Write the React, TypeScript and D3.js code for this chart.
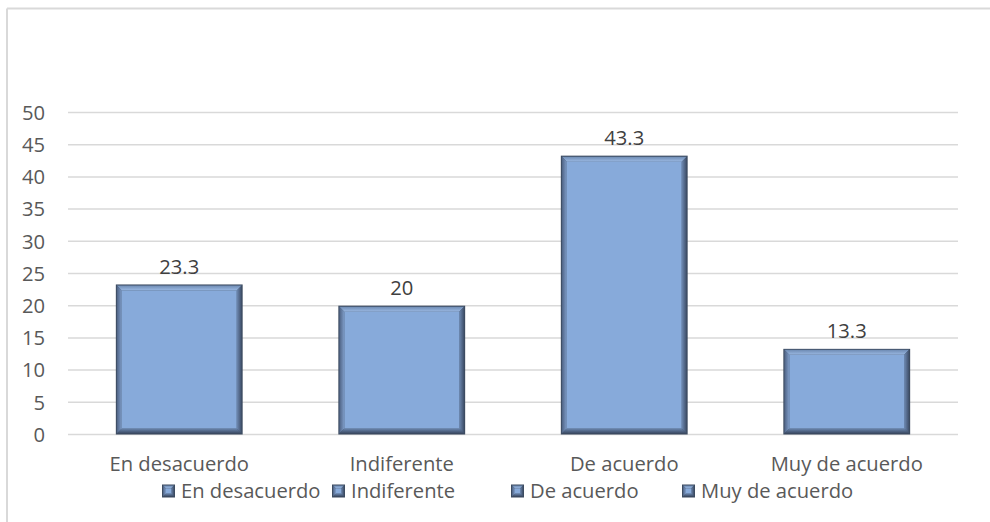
import React from "react";
import * as d3 from "d3";

const categories = ["En desacuerdo", "Indiferente", "De acuerdo", "Muy de acuerdo"];
const values = [23.3, 20, 43.3, 13.3];
const valueLabels = ["23.3", "20", "43.3", "13.3"];
const yTicks = [0, 5, 10, 15, 20, 25, 30, 35, 40, 45, 50];
const legendItems = ["En desacuerdo", "Indiferente", "De acuerdo", "Muy de acuerdo"];
const legendX = [162, 332, 511, 682];

const W = 990;
const H = 522;
const FONT = "'Open Sans', 'Noto Sans', sans-serif";
const TEXT = "#595959";
const FILL = "#87AADA";
const EDGE = "#3C4B60";
const FS = 20.2;

function BevelRect({ x, y, w, h, b }: { x: number; y: number; w: number; h: number; b: number }) {
  const x2 = x + w;
  const y2 = y + h;
  return (
    <g>
      <rect x={x} y={y} width={w} height={h} fill={EDGE} />
      <polygon points={`${x + 1},${y + 1} ${x2 - 1},${y + 1} ${x2 - 1 - b},${y + 1 + b} ${x + 1 + b},${y + 1 + b}`} fill="url(#bvTop)" />
      <polygon points={`${x + 1},${y + 1} ${x + 1 + b},${y + 1 + b} ${x + 1 + b},${y2 - 1 - b} ${x + 1},${y2 - 1}`} fill="url(#bvLeft)" />
      <polygon points={`${x2 - 1},${y + 1} ${x2 - 1},${y2 - 1} ${x2 - 1 - b},${y2 - 1 - b} ${x2 - 1 - b},${y + 1 + b}`} fill="url(#bvRight)" />
      <polygon points={`${x + 1},${y2 - 1} ${x + 1 + b},${y2 - 1 - b} ${x2 - 1 - b},${y2 - 1 - b} ${x2 - 1},${y2 - 1}`} fill="url(#bvBottom)" />
      <rect x={x + 1 + b} y={y + 1 + b} width={Math.max(0, w - 2 - 2 * b)} height={Math.max(0, h - 2 - 2 * b)} fill={FILL} />
    </g>
  );
}

export default function App() {
  const plotLeft = 68;
  const plotRight = 958;
  const y = d3.scaleLinear().domain([0, 50]).range([434.5, 112.5]);
  const x = d3.scaleBand<string>().domain(categories).range([plotLeft, plotRight]).paddingInner(0.43).paddingOuter(0.215);

  return (
    <svg width={W} height={H} style={{ position: "absolute", left: 0, top: 0, background: "#fff" }} fontFamily={FONT}>
      <defs>
        <linearGradient id="bvTop" x1="0" y1="0" x2="0" y2="1">
          <stop offset="0" stopColor="#6E8BB3" />
          <stop offset="1" stopColor="#9BB9E3" />
        </linearGradient>
        <linearGradient id="bvLeft" x1="0" y1="0" x2="1" y2="0">
          <stop offset="0" stopColor="#4E6283" />
          <stop offset="1" stopColor="#7E9CC8" />
        </linearGradient>
        <linearGradient id="bvRight" x1="1" y1="0" x2="0" y2="0">
          <stop offset="0" stopColor="#3E4E68" />
          <stop offset="1" stopColor="#6F8BB4" />
        </linearGradient>
        <linearGradient id="bvBottom" x1="0" y1="1" x2="0" y2="0">
          <stop offset="0" stopColor="#3A4861" />
          <stop offset="1" stopColor="#6A86AE" />
        </linearGradient>
      </defs>

      <rect x={0} y={0} width={W} height={H} fill="#fff" />
      {/* chart area frame */}
      <line x1={7} x2={W} y1={8.5} y2={8.5} stroke="#D9D9D9" strokeWidth={2} />
      <line x1={7} x2={7} y1={8.5} y2={H} stroke="#D9D9D9" strokeWidth={2} />

      {/* gridlines */}
      {yTicks.map((t) => (
        <line key={t} x1={plotLeft} x2={plotRight} y1={y(t)} y2={y(t)} stroke="#D9D9D9" strokeWidth={1.5} />
      ))}

      {/* y tick labels */}
      {yTicks.map((t) => (
        <text key={t} x={45} y={y(t)} dy="0.36em" textAnchor="end" fontSize={FS} fill={TEXT}>
          {t}
        </text>
      ))}

      {/* bars */}
      {categories.map((c, i) => {
        const bx = x(c)!;
        const top = y(values[i]);
        return <BevelRect key={c} x={bx} y={top} w={x.bandwidth()} h={y(0) - top} b={5} />;
      })}

      {/* value labels */}
      {categories.map((c, i) => (
        <text key={c} x={x(c)! + x.bandwidth() / 2} y={y(values[i]) - 18} dy="0.36em" textAnchor="middle" fontSize={FS} fill="#404040">
          {valueLabels[i]}
        </text>
      ))}

      {/* category labels */}
      {categories.map((c) => (
        <text key={c} x={x(c)! + x.bandwidth() / 2} y={464} dy="0.36em" textAnchor="middle" fontSize={FS} fill={TEXT}>
          {c}
        </text>
      ))}

      {/* legend */}
      {legendItems.map((l, i) => (
        <g key={l} transform={`translate(${legendX[i]},${491})`}>
          <BevelRect x={0} y={-6.5} w={13} h={13} b={3} />
          <text x={19} y={0} dy="0.36em" fontSize={FS} fill={TEXT}>
            {l}
          </text>
        </g>
      ))}
    </svg>
  );
}
